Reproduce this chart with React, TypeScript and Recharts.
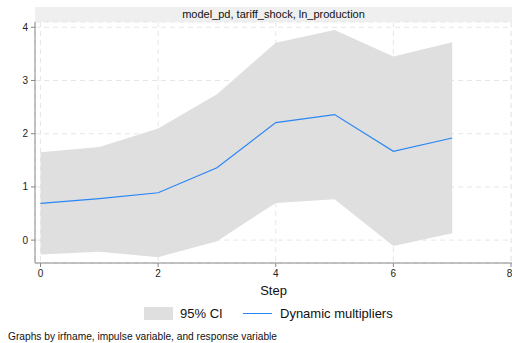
import { ComposedChart, Area, Line, XAxis, YAxis, CartesianGrid } from "recharts";

const steps = [0, 1, 2, 3, 4, 5, 6, 7];
const multipliers = [0.69, 0.78, 0.89, 1.36, 2.21, 2.36, 1.67, 1.92];
const ciLower = [-0.27, -0.22, -0.32, -0.02, 0.7, 0.77, -0.11, 0.13];
const ciUpper = [1.65, 1.75, 2.1, 2.74, 3.71, 3.95, 3.45, 3.72];
const xTicks = [0, 2, 4, 6, 8];
const yTicks = [0, 1, 2, 3, 4];

const data = steps.map((s, i) => ({
  step: s,
  dm: multipliers[i],
  ci: [ciLower[i], ciUpper[i]],
}));

const FONT = '"Liberation Sans", Arial, sans-serif';
const BAND = "#dfdfdf";
const BLUE = "#2a86f5";

export default function App() {
  return (
    <div style={{ position: "absolute", left: 0, top: 0, width: 512, height: 343, background: "#fff", fontFamily: FONT }}>
      {/* title strip */}
      <div
        style={{
          position: "absolute",
          left: 35,
          top: 7,
          width: 477,
          height: 15,
          background: "#efefef",
          fontSize: 11,
          lineHeight: "15px",
          textAlign: "center",
          color: "#111",
        }}
      >
        model_pd, tariff_shock, ln_production
      </div>
      <ComposedChart width={512} height={343} data={data} margin={{ top: 22, right: 0, bottom: 0, left: 0 }}>
        <CartesianGrid stroke="#e6e6e6" strokeDasharray="5 4" />
        <XAxis
          dataKey="step"
          type="number"
          domain={[-0.094, 8.017]}
          ticks={xTicks}
          allowDataOverflow
          height={80}
          stroke="#888"
          tickSize={4}
          tickMargin={3}
          tick={{ fontSize: 10, fill: "#222", fontFamily: FONT }}
          label={{ value: "Step", position: "insideTop", offset: 23, fontSize: 13, fill: "#111", fontFamily: FONT }}
        />
        <YAxis
          type="number"
          domain={[-0.43, 4.1]}
          ticks={yTicks}
          allowDataOverflow
          width={35}
          stroke="#888"
          tickSize={4}
          tickMargin={3}
          tick={{ fontSize: 10, fill: "#222", fontFamily: FONT }}
        />
        <Area dataKey="ci" type="linear" fill={BAND} fillOpacity={1} stroke="none" isAnimationActive={false} />
        <Line dataKey="dm" type="linear" stroke={BLUE} strokeWidth={1.2} dot={false} isAnimationActive={false} />
      </ComposedChart>
      {/* legend */}
      <div style={{ position: "absolute", left: 144, top: 307, width: 29, height: 13, background: BAND }} />
      <div style={{ position: "absolute", left: 180, top: 306, fontSize: 13, lineHeight: "15px", color: "#111" }}>95% CI</div>
      <div style={{ position: "absolute", left: 243, top: 313, width: 29, height: 1.3, background: BLUE }} />
      <div style={{ position: "absolute", left: 280, top: 306, fontSize: 13, lineHeight: "15px", color: "#111" }}>
        Dynamic multipliers
      </div>
      <div style={{ position: "absolute", left: 8, top: 331, fontSize: 10.2, lineHeight: "12px", color: "#111" }}>
        Graphs by irfname, impulse variable, and response variable
      </div>
    </div>
  );
}
